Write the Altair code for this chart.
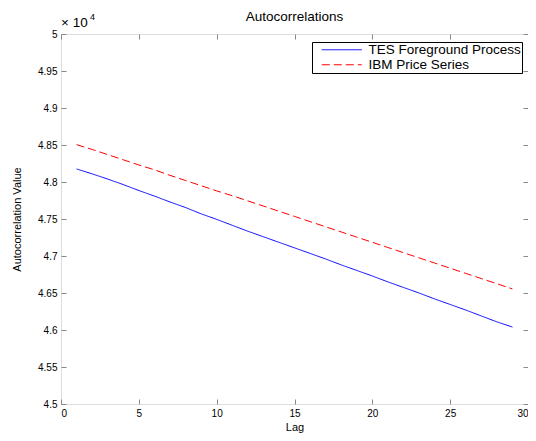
import altair as alt
import pandas as pd

lags = list(range(1, 30))
tes = [48176, 48110, 48040, 47965, 47885, 47810, 47730, 47655, 47570, 47495,
       47415, 47335, 47260, 47185, 47110, 47035, 46960, 46880, 46805, 46730,
       46650, 46575, 46500, 46420, 46345, 46270, 46190, 46110, 46040]
ibm = [48505, 48440, 48370, 48300, 48230, 48165, 48090, 48020, 47950, 47880,
       47815, 47745, 47675, 47605, 47535, 47465, 47395, 47325, 47255, 47185,
       47115, 47045, 46975, 46905, 46835, 46765, 46695, 46625, 46555]
series_names = ["TES Foreground Process", "IBM Price Series"]
x_ticks = [0, 5, 10, 15, 20, 25, 30]
y_ticks = [45000, 45500, 46000, 46500, 47000, 47500, 48000, 48500, 49000, 49500, 50000]
title_text = ["Autocorrelations"]
exp_text = ["\u00d7 10"]
exp_power = ["4"]

df = pd.DataFrame({
    "Lag": lags * 2,
    "Value": tes + ibm,
    "Series": [series_names[0]] * len(tes) + [series_names[1]] * len(ibm),
})

FONT = "Liberation Sans"
FS = 13.5
W, H = 467, 370

x_scale = alt.Scale(domain=[0, 30], nice=False, zero=False)
y_scale = alt.Scale(domain=[45000, 50000], nice=False, zero=False)

legend = alt.Legend(title=None, orient="none", legendX=251, legendY=8,
                    strokeColor="black", fillColor="white", padding=1,
                    symbolType="M-4,0H4", symbolSize=100, symbolStrokeWidth=1,
                    symbolOffset=22, labelOffset=20, labelFontSize=FS, labelFont=FONT,
                    labelColor="black", rowPadding=0, cornerRadius=0,
                    labelExpr="datum.label + ' '")

lines = alt.Chart(df).mark_line(strokeWidth=1).encode(
    x=alt.X("Lag:Q", scale=x_scale,
            axis=alt.Axis(title="Lag", values=x_ticks, orient="bottom", offset=-5,
                          tickSize=5, labelPadding=4, domain=False, grid=False,
                          titlePadding=3, titleFontWeight="normal")),
    y=alt.Y("Value:Q", scale=y_scale,
            axis=alt.Axis(title="Autocorrelation Value", values=y_ticks, orient="left",
                          offset=-5, tickSize=5, labelPadding=4, domain=False, grid=False,
                          labelExpr="datum.value / 10000", titlePadding=15,
                          titleFontWeight="normal")),
    color=alt.Color("Series:N", scale=alt.Scale(domain=series_names, range=["#0000ff", "#ff0000"]),
                    legend=legend),
    strokeDash=alt.StrokeDash("Series:N", scale=alt.Scale(domain=series_names, range=[[1, 0], [8, 4]]),
                              legend=legend),
)

frame = alt.Chart(df).mark_point(opacity=0).encode(
    x=alt.X("Lag:Q", scale=x_scale,
            axis=alt.Axis(title=None, values=x_ticks, orient="top", offset=-5, tickSize=5,
                          labels=False, domain=False, grid=False)),
    y=alt.Y("Value:Q", scale=y_scale,
            axis=alt.Axis(title=None, values=y_ticks, orient="right", offset=-5, tickSize=5,
                          labels=False, domain=False, grid=False)),
)

title_mark = alt.Chart(pd.DataFrame({"t": title_text})).mark_text(
    font=FONT, fontSize=FS, fontWeight="normal", align="center", baseline="alphabetic",
    color="black").encode(text="t:N", x=alt.value(W / 2), y=alt.value(-13))
exp_base = alt.Chart(pd.DataFrame({"t": exp_text})).mark_text(
    font=FONT, fontSize=FS, fontWeight="normal", align="left", baseline="alphabetic",
    color="black").encode(text="t:N", x=alt.value(0), y=alt.value(-7))
exp_sup = alt.Chart(pd.DataFrame({"t": exp_power})).mark_text(
    font=FONT, fontSize=9, fontWeight="normal", align="left", baseline="alphabetic",
    color="black").encode(text="t:N", x=alt.value(29), y=alt.value(-14))

chart = alt.layer(lines, frame, title_mark, exp_base, exp_sup).resolve_axis(
    x="independent", y="independent"
).properties(
    width=W, height=H,
    autosize=alt.AutoSizeParams(type="none"),
    padding={"left": 53, "top": 26, "right": 0, "bottom": 29},
).configure_view(
    stroke="black", strokeWidth=1
).configure_axis(
    labelFont=FONT, labelFontSize=FS, labelColor="black", tickColor="black",
    titleFont=FONT, titleFontSize=FS, titleFontWeight="normal", titleColor="black",
    tickWidth=1
).configure(background="white")

chart.save("out.html", embed_options={"renderer": "svg", "actions": False})
